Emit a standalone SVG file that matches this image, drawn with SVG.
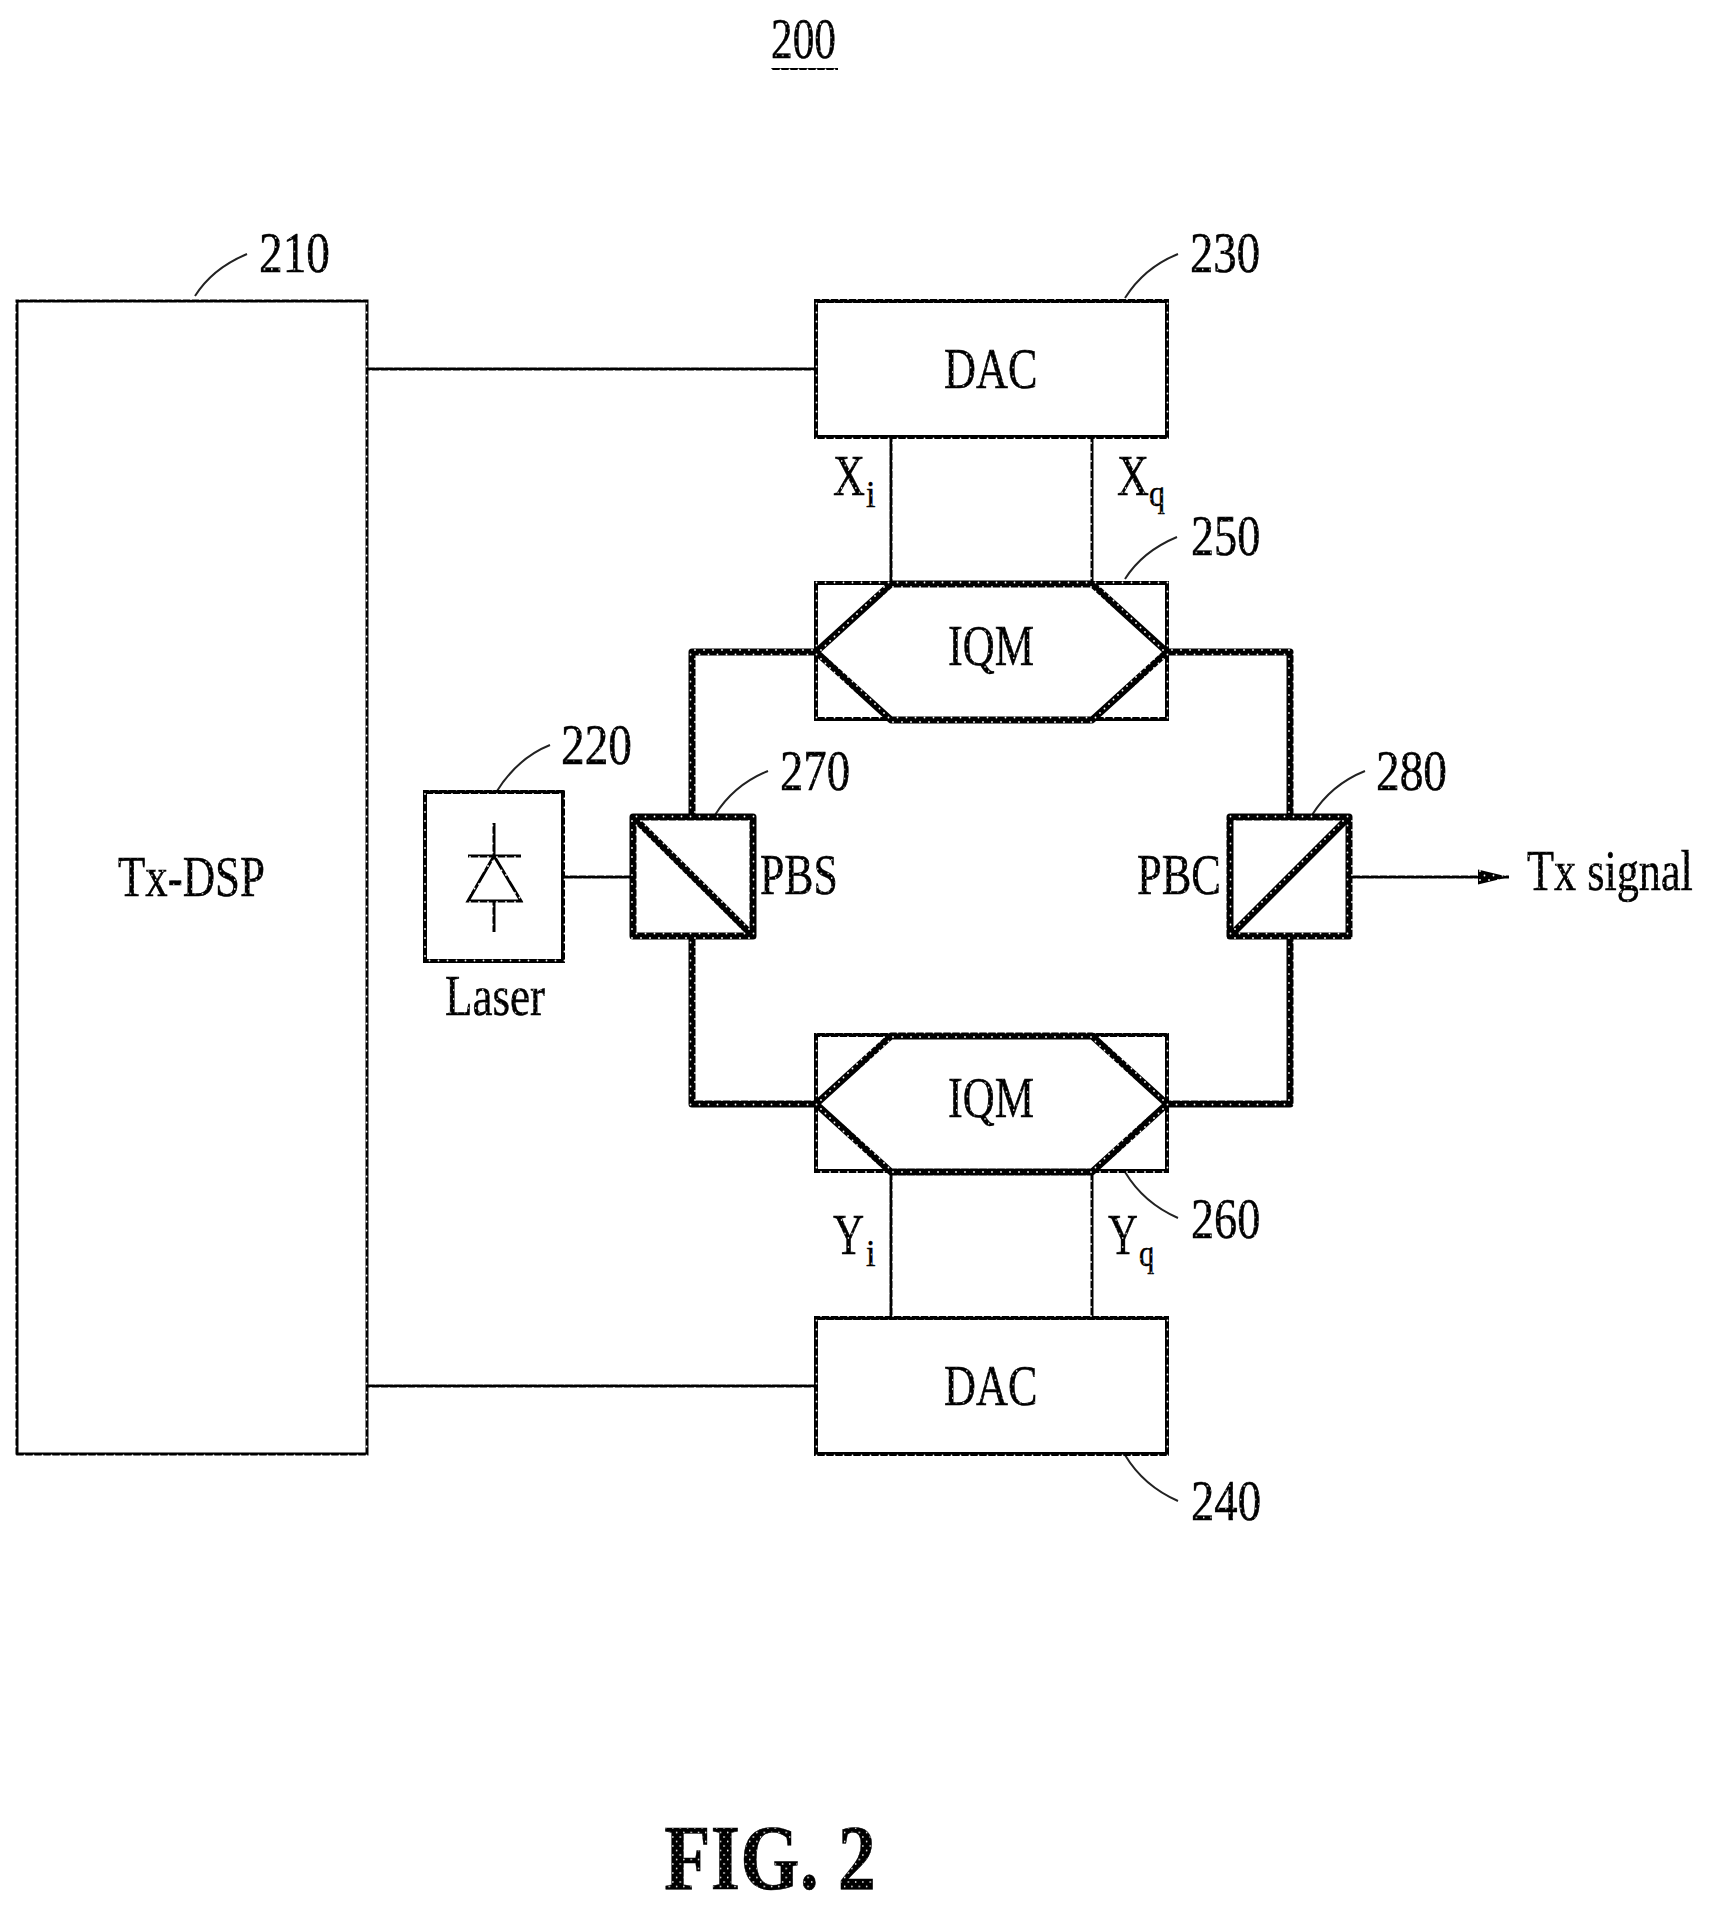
<svg xmlns="http://www.w3.org/2000/svg" width="1712" height="1912" viewBox="0 0 1712 1912">
<style>
text{font-family:"Liberation Serif","Times New Roman",serif;fill:url(#ht);stroke:#000;stroke-width:.5px}
.t{font-size:56px}
.n{font-size:57px}
.s{font-size:38px}
.box{fill:none;stroke:url(#ht);stroke-width:4}
.thick{fill:none;stroke:url(#ht);stroke-width:7;stroke-linejoin:round}
.wire{fill:none;stroke:url(#ht);stroke-width:3}
.lead{fill:none;stroke:#222;stroke-width:2}
</style>
<defs>
<pattern id="ht" patternUnits="userSpaceOnUse" width="9" height="9">
<rect width="9" height="9" fill="#000"/>
<circle cx="2" cy="2" r="0.9" fill="#fff"/>
<circle cx="6.5" cy="6.5" r="0.9" fill="#fff"/>
</pattern>
<marker id="arrow" markerUnits="userSpaceOnUse" markerWidth="32" markerHeight="16" refX="31" refY="8" orient="auto"><path d="M0 0.5L31 8L0 15.5Z" fill="url(#ht)"/></marker>
</defs>
<rect width="1712" height="1912" fill="#fff"/>
<g id="title">
<text class="n" transform="matrix(.76 0 0 1 771 58)">200</text>
<line class="wire" x1="771" y1="69" x2="838" y2="69" style="stroke-width:2"/>
</g>
<g id="connectors">
<line class="wire" x1="367" y1="369" x2="816" y2="369"/>
<line class="wire" x1="367" y1="1386" x2="816" y2="1386"/>
<line class="wire" x1="891" y1="437" x2="891" y2="583"/>
<line class="wire" x1="1092" y1="437" x2="1092" y2="583"/>
<line class="wire" x1="891" y1="1172" x2="891" y2="1318"/>
<line class="wire" x1="1092" y1="1172" x2="1092" y2="1318"/>
<line class="wire" x1="563" y1="877" x2="633" y2="877"/>
<line class="wire" x1="1349" y1="877" x2="1509" y2="877" marker-end="url(#arrow)"/>
<path class="thick" d="M692 817V652H816"/>
<path class="thick" d="M692 936V1104H816"/>
<path class="thick" d="M1167 652H1290V817"/>
<path class="thick" d="M1167 1104H1290V936"/>
<path class="lead" d="M195 296C207 277 223 264 247 254"/>
<path class="lead" d="M1125 298C1137 279 1153 264 1178 254"/>
<path class="lead" d="M1125 579C1137 560 1153 547 1177 537"/>
<path class="lead" d="M1125 1172C1137 1192 1153 1207 1178 1218"/>
<path class="lead" d="M1125 1455C1137 1475 1153 1490 1178 1501"/>
<path class="lead" d="M497 791C509 772 525 755 550 745"/>
<path class="lead" d="M715 815C727 796 743 781 768 771"/>
<path class="lead" d="M1312 815C1324 796 1340 781 1365 771"/>
</g>
<g id="n210">
<rect class="box" x="17" y="301" width="350" height="1153" style="stroke-width:3"/>
<text class="t" transform="matrix(.8 0 0 1 118 896)">Tx-DSP</text>
<text class="n" transform="matrix(.83 0 0 1 259 272)">210</text>
</g>
<g id="n220">
<rect class="box" x="425" y="792" width="138" height="169"/>
<g class="wire">
<line x1="494" y1="823" x2="494" y2="856"/>
<line x1="468" y1="856" x2="521" y2="856"/>
<path d="M494 856L468 901H521Z"/>
<line x1="494" y1="901" x2="494" y2="932"/>
</g>
<text class="t" transform="matrix(.805 0 0 1 445 1015)">Laser</text>
<text class="n" transform="matrix(.83 0 0 1 561 764)">220</text>
</g>
<g id="n230">
<rect class="box" x="816" y="301" width="351" height="136"/>
<text class="t" transform="matrix(.79 0 0 1 944 388)">DAC</text>
<text class="n" transform="matrix(.82 0 0 1 1190 272)">230</text>
<text class="t" transform="matrix(.79 0 0 1 833 495)">X</text>
<text class="s" transform="matrix(.9 0 0 1 866 507)">i</text>
<text class="t" transform="matrix(.79 0 0 1 1117 495)">X</text>
<text class="s" transform="matrix(.84 0 0 1 1149 506)">q</text>
</g>
<g id="n240">
<rect class="box" x="816" y="1318" width="351" height="136"/>
<text class="t" transform="matrix(.79 0 0 1 944 1405)">DAC</text>
<text class="n" transform="matrix(.82 0 0 1 1191 1520)">240</text>
<text class="t" transform="matrix(.77 0 0 1 833 1254)">Y</text>
<text class="s" transform="matrix(.9 0 0 1 866 1266)">i</text>
<text class="t" transform="matrix(.74 0 0 1 1108 1254)">Y</text>
<text class="s" transform="matrix(.8 0 0 1 1139 1266)">q</text>
</g>
<g id="n250">
<rect class="box" x="816" y="583" width="351" height="136"/>
<path class="thick" d="M816 652L891 584H1092L1167 652L1092 720H891Z"/>
<text class="t" transform="matrix(.79 0 0 1 948 665)">IQM</text>
<text class="n" transform="matrix(.81 0 0 1 1191 555)">250</text>
</g>
<g id="n260">
<rect class="box" x="816" y="1035" width="351" height="136"/>
<path class="thick" d="M816 1104L891 1036H1092L1167 1104L1092 1172H891Z"/>
<text class="t" transform="matrix(.79 0 0 1 948 1117)">IQM</text>
<text class="n" transform="matrix(.81 0 0 1 1191 1238)">260</text>
</g>
<g id="n270">
<rect class="thick" x="633" y="817" width="120" height="119"/>
<line class="thick" x1="633" y1="817" x2="753" y2="936"/>
<text class="t" transform="matrix(.78 0 0 1 760 894)">PBS</text>
<text class="n" transform="matrix(.82 0 0 1 780 790)">270</text>
</g>
<g id="n280">
<rect class="thick" x="1230" y="817" width="119" height="119"/>
<line class="thick" x1="1230" y1="936" x2="1349" y2="817"/>
<text class="t" transform="matrix(.794 0 0 1 1137 894)">PBC</text>
<text class="n" transform="matrix(.83 0 0 1 1376 790)">280</text>
</g>
<g id="output">
<text class="t" transform="matrix(.79 0 0 1 1527 890)">Tx signal</text>
</g>
<g id="caption">
<text font-size="94" font-weight="700" transform="matrix(.812 0 0 1 664 1889)">FIG. 2</text>
</g>
</svg>
